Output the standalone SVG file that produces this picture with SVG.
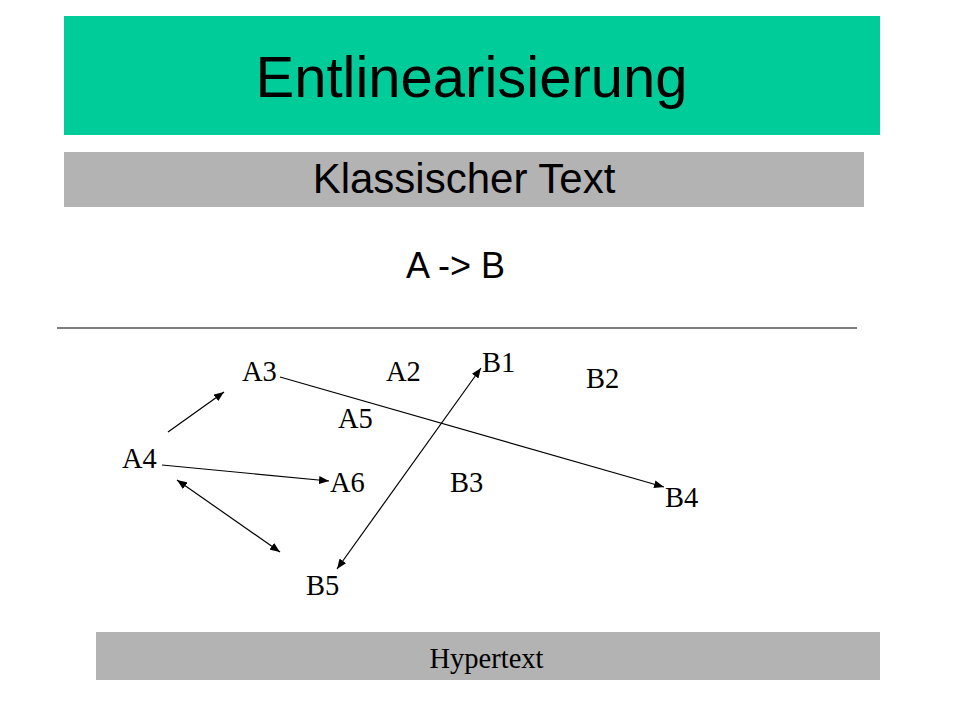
<svg xmlns="http://www.w3.org/2000/svg" width="960" height="720" viewBox="0 0 960 720">
<style>
.h{font-family:"Liberation Sans",Arial,sans-serif;fill:#000}
.n{font-family:"Liberation Serif","Times New Roman",serif;font-size:28.5px;fill:#000}
.c{stroke:#000;stroke-width:1.2;fill:none}
</style>
<defs>
<marker id="ah" viewBox="0 0 10 8" refX="10" refY="4" markerWidth="10" markerHeight="8" markerUnits="userSpaceOnUse" orient="auto-start-reverse">
<path d="M0,0 L10,4 L0,8 z" fill="#000"/>
</marker>
</defs>
<rect width="960" height="720" fill="#fff"/>
<g id="title">
<rect x="64" y="16" width="816" height="119" fill="#00cc99"/>
<text class="h" x="471.5" y="97" font-size="58" text-anchor="middle">Entlinearisierung</text>
</g>
<g id="klassisch">
<rect x="64" y="152" width="800" height="55" fill="#b3b3b3"/>
<text class="h" x="464" y="193" font-size="42" text-anchor="middle">Klassischer Text</text>
</g>
<g id="ab">
<text class="h" x="455.5" y="278" font-size="36" text-anchor="middle">A -&gt; B</text>
</g>
<line x1="57" y1="328" x2="857" y2="328" stroke="#000" stroke-width="1.2"/>
<g id="A3"><text class="n" x="242" y="381">A3</text></g>
<g id="A2"><text class="n" x="386" y="381">A2</text></g>
<g id="B1"><text class="n" x="482" y="372">B1</text></g>
<g id="B2"><text class="n" x="586" y="388">B2</text></g>
<g id="A5"><text class="n" x="338" y="428">A5</text></g>
<g id="A4"><text class="n" x="122" y="468">A4</text></g>
<g id="A6"><text class="n" x="330" y="492">A6</text></g>
<g id="B3"><text class="n" x="450" y="492">B3</text></g>
<g id="B4"><text class="n" x="665" y="507">B4</text></g>
<g id="B5"><text class="n" x="306" y="595">B5</text></g>
<g id="connectors">
<line class="c" x1="168" y1="432" x2="224" y2="392" marker-end="url(#ah)"/>
<line class="c" x1="162" y1="465" x2="329" y2="481" marker-end="url(#ah)"/>
<line class="c" x1="177" y1="480" x2="280" y2="552" marker-start="url(#ah)" marker-end="url(#ah)"/>
<line class="c" x1="337" y1="569" x2="481" y2="368" marker-start="url(#ah)" marker-end="url(#ah)"/>
<line class="c" x1="280" y1="377" x2="664" y2="487" marker-end="url(#ah)"/>
</g>
<g id="hypertext">
<rect x="96" y="632" width="784" height="48" fill="#b3b3b3"/>
<text class="n" x="486.5" y="668" font-size="30" text-anchor="middle">Hypertext</text>
</g>
</svg>
